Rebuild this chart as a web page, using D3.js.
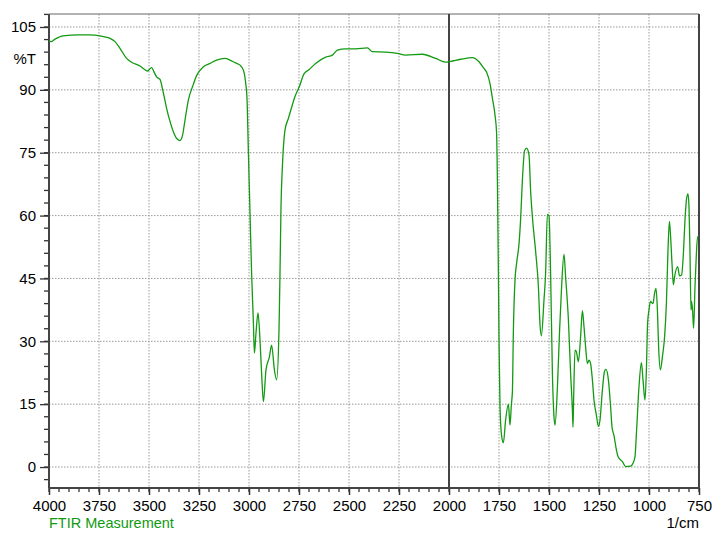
<!DOCTYPE html>
<html>
<head>
<meta charset="utf-8">
<script src="https://cdn.jsdelivr.net/npm/d3@7"></script>
<style>
  html, body { margin: 0; padding: 0; background: #fff; }
  svg { display: block; }
  text { font-family: "Liberation Sans", Arial, sans-serif; }
</style>
</head>
<body>
<svg id="chart" width="727" height="546"></svg>
<script>
// ---- data ----
const wavenumbers = [4000,3990,3970,3930,3850,3800,3745,3710,3695,3670,3645,3612,3587,3545,3520,3508,3487,3475,3462,3445,3428,3412,3392,3375,3358,3345,3333,3320,3303,3282,3262,3228,3195,3162,3120,3095,3070,3045,3028,3017,3010,3003,2995,2987,2978,2973,2965,2955,2945,2937,2928,2915,2898,2887,2873,2862,2850,2845,2840,2833,2820,2803,2787,2770,2748,2725,2700,2667,2617,2583,2558,2517,2467,2408,2383,2317,2258,2217,2133,2067,2017,1992,1942,1883,1850,1825,1812,1795,1783,1770,1762,1758,1753,1750,1745,1737,1728,1717,1703,1695,1688,1683,1678,1670,1662,1650,1642,1633,1622,1612,1600,1592,1583,1566,1553,1545,1538,1525,1517,1508,1500,1492,1483,1475,1470,1458,1447,1437,1425,1417,1403,1392,1383,1380,1377,1370,1363,1353,1342,1333,1325,1317,1308,1300,1292,1283,1275,1263,1253,1245,1233,1222,1215,1203,1192,1185,1175,1163,1155,1133,1117,1092,1080,1070,1062,1050,1038,1030,1020,1013,1007,1000,993,980,972,965,958,952,943,933,922,913,905,898,892,885,878,872,857,847,837,828,820,812,805,800,795,790,787,782,777,770,763,757,750];
const transmittance = [101.7,101.5,102.1,102.9,103.1,103.1,102.9,102.5,102.3,101.5,99.9,97.5,96.6,95.7,94.8,94.5,95.3,94.3,93.1,92.5,89.2,85.6,82.0,79.6,78.2,77.9,79.0,82.8,87.6,90.8,93.4,95.5,96.3,97.1,97.5,97.1,96.5,95.9,94.7,91.8,88.0,75.0,60.6,46.3,34.4,27.2,32.0,36.8,30.3,22.4,15.6,23.2,26.3,29.1,23.2,20.8,32.7,46.3,62.1,71.7,80.4,83.2,85.8,88.4,90.8,93.8,94.8,96.3,97.8,98.3,99.5,99.8,99.8,100.0,99.1,99.0,98.7,98.3,98.5,97.5,96.6,96.8,97.3,97.7,96.7,95.1,94.2,91.5,88.0,84.0,79.7,68.5,46.3,30.3,14.4,7.5,5.8,11.2,15.0,10.0,15.0,18.0,32.7,44.6,48.6,53.2,59.0,68.5,75.5,76.1,74.5,66.0,59.7,51.0,43.0,34.0,31.3,39.9,46.2,60.3,60.0,46.3,22.4,12.0,10.0,19.0,32.7,43.0,50.8,45.4,35.1,22.4,13.6,9.5,16.0,27.9,27.5,25.1,31.1,37.3,33.5,28.7,24.7,25.5,24.7,20.8,16.0,12.4,9.7,11.2,18.4,22.9,23.3,20.8,14.4,9.6,7.5,4.1,2.5,1.3,0.1,0.2,0.9,2.5,8.8,19.2,24.9,20.8,16.0,23.2,34.3,37.5,39.5,39.0,41.5,42.6,37.5,28.7,23.2,26.3,31.1,39.0,51.8,58.6,55.0,48.6,43.5,45.4,47.8,45.6,45.8,51.0,59.0,64.1,65.2,62.1,51.0,37.5,39.5,37.3,33.1,43.0,51.0,55.0,55.0];
const xTickValues = [4000,3750,3500,3250,3000,2750,2500,2250,2000,1750,1500,1250,1000,750];
const yTickValues = [0,15,30,45,60,75,90,105];
const yAxisLabel = "%T";
const xAxisLabel = "1/cm";
const titleLabel = "FTIR Measurement";

// ---- layout ----
const svg = d3.select("#chart");
const L = 49, R = 699, T = 14, B = 488;
const x = d3.scaleLinear().domain([4000, 750]).range([L, R]);
const y = d3.scaleLinear().domain([-5, 108.1]).range([B, T]);

const grid = svg.append("g");
xTickValues.forEach(v => {
  if (v === 4000 || v === 750 || v === 2000) return;
  grid.append("line").attr("x1", x(v)).attr("x2", x(v)).attr("y1", T).attr("y2", B)
    .attr("stroke", "#999").attr("stroke-width", 1).attr("stroke-dasharray", "1.5,1.5");
});
yTickValues.forEach(v => {
  grid.append("line").attr("x1", L).attr("x2", R).attr("y1", y(v)).attr("y2", y(v))
    .attr("stroke", "#999").attr("stroke-width", 1).attr("stroke-dasharray", "1.5,1.5");
});

// minor ticks
const xMinor = d3.range(750, 4001, 50);
const yMinor = d3.range(-3, 108.1, 3);

const xAxis = d3.axisBottom(x).tickValues(xTickValues).tickSize(7).tickPadding(5).tickFormat(d3.format("d"));
const gx = svg.append("g").attr("transform", `translate(0,${B})`).call(xAxis);
gx.select(".domain").remove();
gx.selectAll("line").attr("stroke", "#333").attr("stroke-width", 1.5);
gx.selectAll("text").attr("font-size", 15).attr("fill", "#000");
svg.append("g").selectAll("line").data(xMinor).join("line")
  .attr("x1", d => x(d)).attr("x2", d => x(d)).attr("y1", B).attr("y2", B + 4)
  .attr("stroke", "#333").attr("stroke-width", 1.3);

const yAxis = d3.axisLeft(y).tickValues(yTickValues).tickSize(9).tickPadding(4);
const gy = svg.append("g").attr("transform", `translate(${L},0)`).call(yAxis);
gy.select(".domain").remove();
gy.selectAll("line").attr("stroke", "#333").attr("stroke-width", 1.3);
gy.selectAll("text").attr("font-size", 15).attr("fill", "#000");
svg.append("g").selectAll("line").data(yMinor).join("line")
  .attr("x1", L - 5).attr("x2", L).attr("y1", d => y(d)).attr("y2", d => y(d))
  .attr("stroke", "#333").attr("stroke-width", 1.3);

// frame
svg.append("line").attr("x1", L).attr("x2", L).attr("y1", T).attr("y2", B).attr("stroke", "#444").attr("stroke-width", 2);
svg.append("line").attr("x1", L).attr("x2", R).attr("y1", B).attr("y2", B).attr("stroke", "#444").attr("stroke-width", 2);
svg.append("line").attr("x1", R).attr("x2", R).attr("y1", T).attr("y2", B).attr("stroke", "#444").attr("stroke-width", 2);
svg.append("line").attr("x1", L).attr("x2", R).attr("y1", T).attr("y2", T).attr("stroke", "#666").attr("stroke-width", 1);
svg.append("line").attr("x1", x(2000)).attr("x2", x(2000)).attr("y1", T).attr("y2", B).attr("stroke", "#444").attr("stroke-width", 2);

// spectrum
const pts = wavenumbers.map((w, i) => [w, transmittance[i]]);
const line = d3.line().x(d => x(d[0])).y(d => y(d[1])).curve(d3.curveMonotoneX);
svg.append("path").attr("d", line(pts)).attr("fill", "none")
  .attr("stroke", "#129a12").attr("stroke-width", 1.3);

// labels
svg.append("text").attr("x", 36).attr("y", 64).attr("text-anchor", "end")
  .attr("font-size", 15).attr("fill", "#000").text(yAxisLabel);
svg.append("text").attr("x", R).attr("y", 528).attr("text-anchor", "end")
  .attr("font-size", 15).attr("fill", "#000").text(xAxisLabel);
svg.append("text").attr("x", L).attr("y", 528).attr("text-anchor", "start")
  .attr("font-size", 14.5).attr("fill", "#109a10").text(titleLabel);
</script>
</body>
</html>
